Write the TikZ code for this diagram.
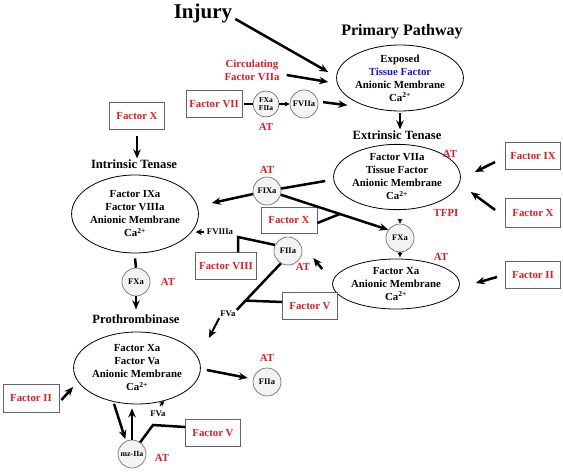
\documentclass[tikz,border=0pt]{standalone}
\usepackage{fontspec}
\setmainfont{Liberation Serif}
\usepackage{tikz}
\usetikzlibrary{arrows.meta}
\usetikzlibrary{positioning}
\usetikzlibrary{calc}
\usetikzlibrary{shapes.geometric}
\definecolor{atred}{RGB}{226,28,36}
\definecolor{tfblue}{RGB}{25,25,205}
\definecolor{boxgray}{RGB}{100,100,100}
\definecolor{circfill}{RGB}{243,243,243}

\begin{document}
\begin{tikzpicture}[x=1pt,y=-1pt,>={Stealth[length=9pt,width=7.5pt]},font=\bfseries,
  main node/.style={ellipse,draw,line width=0.8pt,inner sep=0pt,align=center,font=\bfseries\fontsize{10.8}{13}\selectfont},
  box node/.style={rectangle,draw=boxgray,line width=0.8pt,fill=white,minimum width=55pt,minimum height=27pt,text=atred,font=\bfseries\fontsize{10.8}{13}\selectfont},
  small node/.style={circle,draw=boxgray,line width=0.6pt,fill=circfill,minimum size=28pt,inner sep=0pt,align=center,font=\bfseries\fontsize{8.5}{9}\selectfont},
  red label/.style={text=atred,inner sep=1pt,align=center,font=\bfseries\fontsize{10.8}{13}\selectfont},
  title node/.style={inner sep=1pt,font=\bfseries\fontsize{12.6}{15}\selectfont},
  small label/.style={inner sep=1pt,font=\bfseries\fontsize{8.7}{10}\selectfont},
  arr/.style={->,line width=2.5pt},
  bar/.style={line width=2.5pt},
  tick arr/.style={-{Stealth[length=5pt,width=5pt]},line width=1.2pt}]

  \fill[white] (0,0) rectangle (563,474);
  \useasboundingbox (0,0) rectangle (563,474);

  % primary pathway
  \node[font=\bfseries\fontsize{21}{24}\selectfont,inner sep=0pt] (injury) at (203,13) {Injury};
  \node[font=\bfseries\fontsize{16}{19}\selectfont] (primtitle) at (402,32) {Primary Pathway};
  \node[main node,minimum width=110pt,minimum height=66pt] (prim) at (400,78)
    {Exposed\\\textcolor{tfblue}{Tissue Factor}\\Anionic Membrane\\Ca\textsuperscript{2+}};
  \node[red label] (circ) at (252,70) {Circulating\\Factor VIIa};
  \node[box node] (fvii) at (214,104) {Factor VII};
  \node[small node,minimum size=26pt,font=\bfseries\fontsize{7.5}{8.5}\selectfont] (fxfii) at (266,104) {FXa\\FIIa};
  \node[small node] (fviia) at (304,104) {FVIIa};
  \node[red label] (at1) [below=5pt of fxfii] {AT};

  % extrinsic tenase
  \node[title node] (exttitle) at (397,135) {Extrinsic Tenase};
  \node[main node,minimum width=104pt,minimum height=65pt] (ext) at (397,177)
    {Factor VIIa\\Tissue Factor\\Anionic Membrane\\Ca\textsuperscript{2+}};
  \node[red label] (at2) at (450,154) {AT};
  \node[red label] (tfpi) at (446,213) {TFPI};
  \node[box node] (fix) at (533,156) {Factor IX};
  \node[box node,minimum height=29pt] (fxr) at (533,213) {Factor X};
  \node[small node] (fxa2) at (400,238) {FXa};
  \node[main node,minimum width=102pt,minimum height=50pt] (xa) at (396,284)
    {Factor Xa\\Anionic Membrane\\Ca\textsuperscript{2+}};
  \node[red label] (at3) at (441,257) {AT};
  \node[box node] (fiir) at (533,275) {Factor II};

  % middle
  \node[small node] (fixa) at (267,191) {FIXa};
  \node[red label] (at4) [above=2pt of fixa] {AT};
  \node[box node,minimum width=56pt,minimum height=26pt] (fxm) at (289,220) {Factor X};
  \node[small node] (fiim) at (288,251) {FIIa};
  \node[red label] (at5) at (303,267) {AT};
  \node[small label] (fviiia) at (220,232) {FVIIIa};
  \node[box node,minimum width=61pt] (fviii) at (226,266) {Factor VIII};
  \node[box node] (fvm) at (310,306) {Factor V};
  \node[small label] (fvam) at (228,314) {FVa};

  % intrinsic tenase and prothrombinase
  \node[box node] (fxl) at (137,116) {Factor X};
  \node[title node] (inttitle) at (134,164) {Intrinsic Tenase};
  \node[main node,minimum width=110pt,minimum height=78pt] (int) at (135,214)
    {Factor IXa\\Factor VIIIa\\Anionic Membrane\\Ca\textsuperscript{2+}};
  \node[small node] (fxa1) at (136,282) {FXa};
  \node[red label] (at6) at (168,282) {AT};
  \node[title node] (protitle) at (136,319) {Prothrombinase};
  \node[main node,minimum width=110pt,minimum height=72pt] (pro) at (137,368)
    {Factor Xa\\Factor Va\\Anionic Membrane\\Ca\textsuperscript{2+}};
  \node[box node,minimum width=56pt,minimum height=28pt] (fiil) at (31,398) {Factor II};
  \node[small node] (fiib) at (267,382) {FIIa};
  \node[red label] (at7) [above=5pt of fiib] {AT};
  \node[small node,font=\bfseries\fontsize{7.8}{9}\selectfont] (mz) at (132,454) {mz-IIa};
  \node[red label] (at8) at (162,458) {AT};
  \node[box node] (fvb) at (213,433) {Factor V};
  \node[small label] (fvab) at (158,414) {FVa};

  % connectors
  \draw[arr] ([shift={(3pt,-6pt)}]injury.east) -- ([shift={(-8pt,6pt)}]prim.west);
  \draw[arr] ([shift={(6pt,-5pt)}]circ.east) -- ([shift={(-8pt,-4pt)}]prim.west);
  \draw[bar,shorten <=2pt] (fvii) -- (fxfii);
  \draw[tick arr] (fxfii) -- (fviia);
  \draw[arr,shorten <=5pt] (fviia.10) -- ([shift={(-5pt,-5pt)}]prim.205);
  \draw[arr,shorten <=2pt] (prim.south) -- (prim.south |- exttitle.north);

  \draw[arr] ([shift={(-10pt,-6pt)}]fix.west) -- ([shift={(14pt,5pt)}]ext.east);
  \draw[arr] ([shift={(-10pt,3pt)}]fxr.west) -- ([shift={(10pt,-15pt)}]ext.east);
  \draw[arr] ([shift={(-8pt,-2pt)}]fiir.west) -- ([shift={(16pt,1pt)}]xa.east);
  \draw[tick arr] ([yshift=5pt]fxa2.north) -- (fxa2.north);
  \draw[tick arr] (fxa2.south) -- ([yshift=-5pt]fxa2.south);

  \draw[bar] ([shift={(-8pt,-4pt)}]ext.west) -- (fixa);
  \draw[arr] (fixa) -- ([shift={(13pt,11pt)}]int.east);
  \draw[arr] (fixa.-15) -- (fxa2.145);
  \draw[bar] ([yshift=-3pt]fxm.east) -- ($(fixa.-15)!0.55!(fxa2.145)$);
  \draw[arr] ([shift={(-10pt,15pt)}]xa.west) -- ([shift={(11pt,-7pt)}]fiim.east);
  \draw[-{Stealth[length=6pt,width=6pt]},line width=1.5pt] ([xshift=-2pt]fviiia.west) -- ([xshift=-10pt]fviiia.west);
  \coordinate (c8) at (238,237);
  \draw[bar] (fiim.155) -- (c8) -- (c8 |- fviii.north);
  \draw[bar] (fiim.240) -- (fvam.north east);
  \draw[bar] ([yshift=4pt]fvm.west) -- ($(fiim.240)!0.8!(fvam.north east)$);
  \draw[arr,line width=2pt] (fvam.south west) -- ([shift={(8pt,30pt)}]pro.east);

  \draw[arr] ([yshift=-6pt]fxl.south) -- (fxl.south |- inttitle.north);
  \draw[bar] ([yshift=-5pt]int.south) -- (fxa1.north);
  \draw[arr,shorten >=4pt] (fxa1.south) -- (fxa1.south |- protitle.north);
  \draw[arr] ([shift={(2pt,-2pt)}]fiil.east) -- ([yshift=-19pt]pro.west);
  \draw[arr] ([shift={(6pt,-2pt)}]pro.east) -- ([shift={(-5pt,4pt)}]fiib.west);
  \draw[arr,shorten <=2pt,shorten >=2pt] (pro.235) -- (mz.115);
  \draw[arr,shorten >=4pt] (mz.north) -- (mz.north |- pro.south);
  \coordinate (cv) at (153,425);
  \draw[bar] ([yshift=6pt]fvb.west) -- (cv) -- (mz.55);
  \draw[tick arr] ([shift={(2pt,4pt)}]fvab.north) -- ([shift={(6pt,9pt)}]fvab.north);
\end{tikzpicture}
\end{document}
